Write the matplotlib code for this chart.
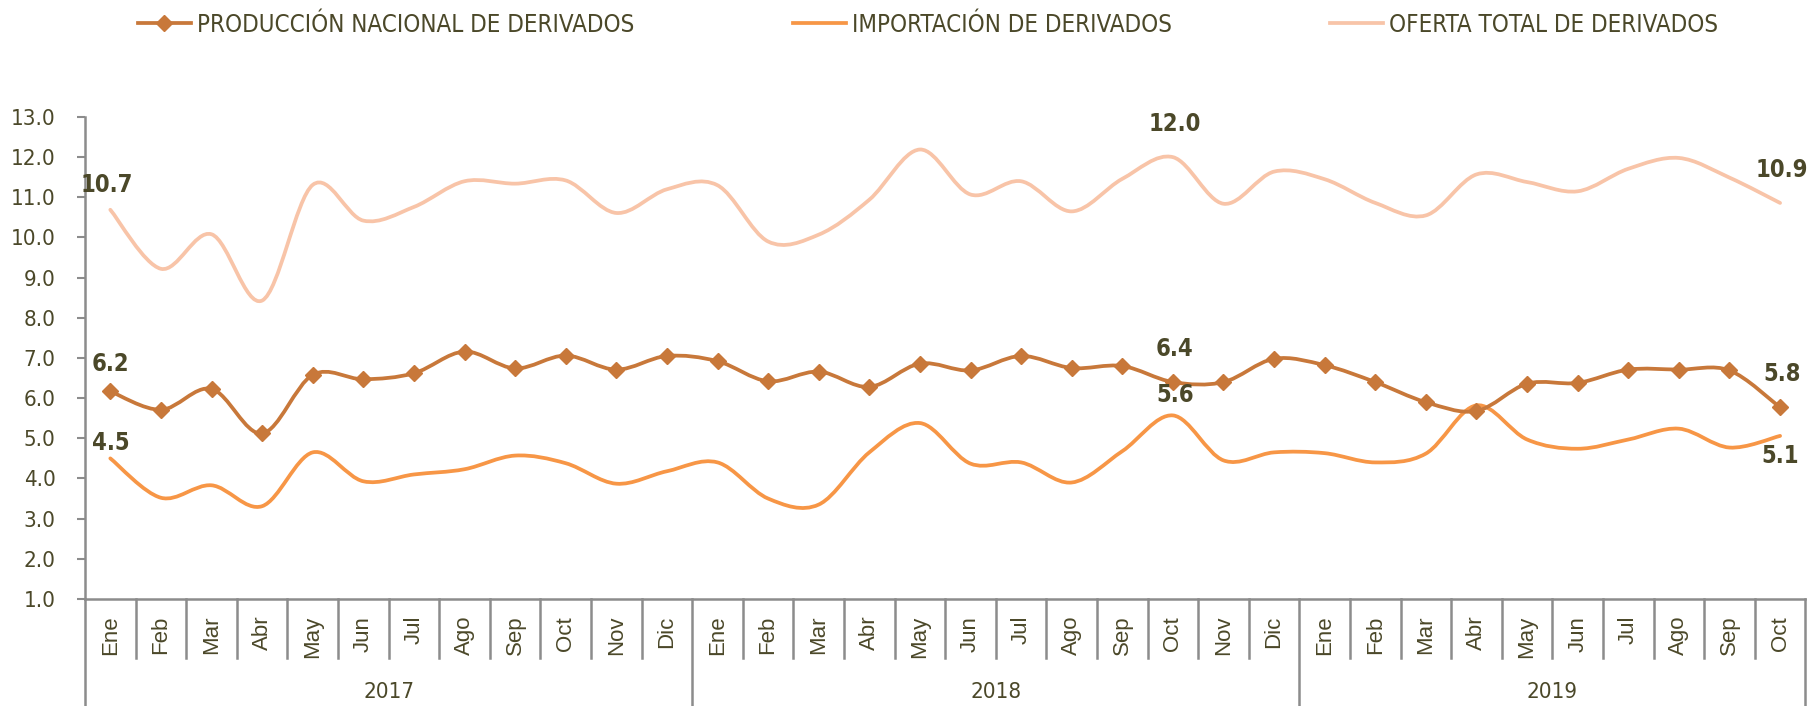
import numpy as np
import matplotlib
matplotlib.use("Agg")
import matplotlib.pyplot as plt
from matplotlib.path import Path
from matplotlib.patches import PathPatch
from matplotlib.lines import Line2D
import matplotlib.transforms as mtransforms

# ============================
# Data
# ============================
months = ["Ene", "Feb", "Mar", "Abr", "May", "Jun", "Jul", "Ago", "Sep", "Oct", "Nov", "Dic",
          "Ene", "Feb", "Mar", "Abr", "May", "Jun", "Jul", "Ago", "Sep", "Oct", "Nov", "Dic",
          "Ene", "Feb", "Mar", "Abr", "May", "Jun", "Jul", "Ago", "Sep", "Oct"]
years = ["2017", "2018", "2019"]
year_counts = [12, 12, 10]

produccion = [6.17, 5.71, 6.23, 5.12, 6.58, 6.47, 6.62, 7.16, 6.74, 7.06, 6.71, 7.05,
              6.92, 6.42, 6.66, 6.28, 6.86, 6.69, 7.05, 6.75, 6.80, 6.40, 6.40, 6.98,
              6.82, 6.40, 5.90, 5.68, 6.36, 6.38, 6.71, 6.71, 6.69, 5.77]
importacion = [4.50, 3.52, 3.83, 3.31, 4.65, 3.93, 4.10, 4.23, 4.57, 4.38, 3.87, 4.18,
               4.40, 3.50, 3.35, 4.65, 5.38, 4.37, 4.40, 3.90, 4.68, 5.57, 4.45, 4.65,
               4.63, 4.40, 4.62, 5.82, 4.97, 4.74, 4.97, 5.24, 4.77, 5.06]
oferta = [10.69, 9.22, 10.08, 8.43, 11.31, 10.42, 10.76, 11.40, 11.34, 11.42, 10.61, 11.20,
          11.30, 9.90, 10.07, 10.94, 12.19, 11.07, 11.40, 10.65, 11.46, 12.00, 10.84, 11.64,
          11.45, 10.86, 10.55, 11.57, 11.38, 11.15, 11.71, 11.98, 11.49, 10.86]

series_names = ["PRODUCCIÓN NACIONAL DE DERIVADOS", "IMPORTACIÓN DE DERIVADOS",
                "OFERTA TOTAL DE DERIVADOS"]

C_PROD = "#c8783a"
C_IMP = "#f79646"
C_OFE = "#f8c4a8"
C_TXT = "#4b4829"
C_AX = "#8c8c8c"
NARROW = dict(family=["DejaVu Sans"], stretch="condensed")
REG = dict(family=["Liberation Sans", "DejaVu Sans"])


def smooth_path(xs, ys):
    # excel-like smoothed line: cubic bezier through each point
    xs = np.asarray(xs, float)
    ys = np.asarray(ys, float)
    n = len(xs)
    verts = [(xs[0], ys[0])]
    codes = [Path.MOVETO]
    for i in range(n - 1):
        a = max(i - 1, 0)
        b = min(i + 2, n - 1)
        c1 = (xs[i] + (xs[i + 1] - xs[a]) / 6, ys[i] + (ys[i + 1] - ys[a]) / 6)
        c2 = (xs[i + 1] - (xs[b] - xs[i]) / 6, ys[i + 1] - (ys[b] - ys[i]) / 6)
        verts += [c1, c2, (xs[i + 1], ys[i + 1])]
        codes += [Path.CURVE4] * 3
    return Path(verts, codes)


fig = plt.figure(figsize=(18.09, 7.06), dpi=100)
ax = fig.add_axes([0.047, 0.1516, 0.951, 0.6827])

x = np.arange(len(months))
for vals, col in [(oferta, C_OFE), (importacion, C_IMP), (produccion, C_PROD)]:
    ax.add_patch(PathPatch(smooth_path(x, vals), fill=False, edgecolor=col,
                           lw=2.7, capstyle="round", joinstyle="round"))
ax.plot(x, produccion, linestyle="none", marker="D", ms=8, color=C_PROD)

ax.set_xlim(-0.5, len(months) - 0.5)
ax.set_ylim(1.0, 13.0)
yt = np.arange(1, 14, 1.0)
ax.set_yticks(yt)
ax.set_yticklabels([f"{v:.1f}" for v in yt], fontsize=16, color=C_TXT, **NARROW)
ax.tick_params(axis="y", length=6, width=1.5, color=C_AX, pad=15)
ax.set_xticks([])
for s in ["top", "right"]:
    ax.spines[s].set_visible(False)
for s in ["left", "bottom"]:
    ax.spines[s].set_color(C_AX)
    ax.spines[s].set_linewidth(1.8)

# category axis: months, separators and years
trans = mtransforms.blended_transform_factory(ax.transData, ax.transAxes)
for i, m in enumerate(months):
    ax.text(i, -0.035, m, transform=trans, rotation=90, ha="center", va="top",
            fontsize=16, color=C_TXT, **REG)
bounds = np.cumsum([0] + year_counts) - 0.5
for b in np.arange(-0.5, len(months), 1.0):
    low = -0.225 if b in bounds else -0.122
    ax.add_line(Line2D([b, b], [0, low], transform=trans, color=C_AX, lw=1.8,
                       clip_on=False))
for k, yr in enumerate(years):
    ax.text((bounds[k] + bounds[k + 1]) / 2, -0.193, yr, transform=trans,
            ha="center", va="center", fontsize=16, color=C_TXT, **NARROW)

# data labels
labels = [(oferta, 0, -4, 25), (produccion, 0, 0, 27), (importacion, 0, 0, 15),
          (oferta, 21, 2, 33), (produccion, 21, 2, 33), (importacion, 21, 2, 20),
          (oferta, 33, 2, 33), (produccion, 33, 2, 33), (importacion, 33, 0, -20)]
for vals, i, dx, dy in labels:
    ax.annotate(f"{vals[i]:.1f}", (i, vals[i]), xytext=(dx, dy), textcoords="offset pixels",
                ha="center", va="center", fontsize=17, fontweight="bold", color=C_TXT,
                annotation_clip=False, **NARROW)

handles = [Line2D([], [], color=C_PROD, lw=2.7, marker="D", ms=8),
           Line2D([], [], color=C_IMP, lw=2.7),
           Line2D([], [], color=C_OFE, lw=2.7)]
fig.legend(handles, series_names, loc="center", bbox_to_anchor=(0.513, 0.965), ncol=3,
           frameon=False, prop=dict(size=17.3, **NARROW), labelcolor=C_TXT,
           handlelength=2.2, handletextpad=0.25, columnspacing=6.6)

fig.savefig("out.png", dpi=100)
